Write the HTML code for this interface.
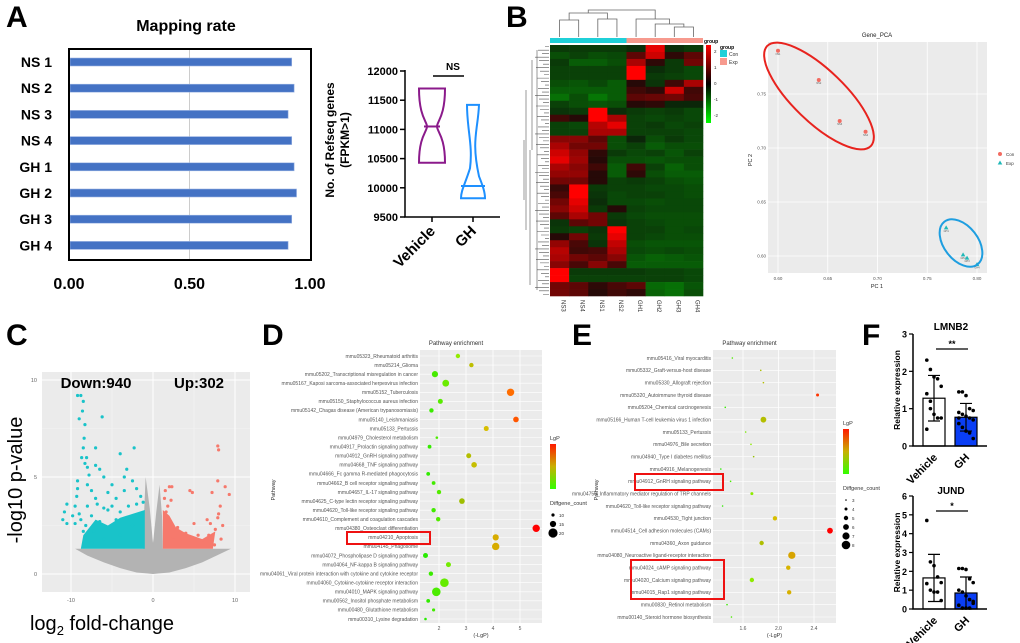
<!DOCTYPE html>
<html><head><meta charset="utf-8"><style>
html,body{margin:0;padding:0;background:#fff}
svg{display:block;font-family:"Liberation Sans",Arial,sans-serif}
</style></head><body>
<svg id="fig" width="1020" height="643" viewBox="0 0 1020 643">
<text x="6" y="27" font-size="30" font-weight="bold">A</text>
<text x="506" y="27" font-size="30" font-weight="bold">B</text>
<text x="6" y="345" font-size="30" font-weight="bold">C</text>
<text x="262" y="345" font-size="30" font-weight="bold">D</text>
<text x="572" y="345" font-size="30" font-weight="bold">E</text>
<text x="862" y="345" font-size="30" font-weight="bold">F</text>
</svg>
<script>
// ---------- DATA ----------
const mapSamples=["NS 1","NS 2","NS 3","NS 4","GH 1","GH 2","GH 3","GH 4"];
const mapRates=[0.92,0.93,0.905,0.92,0.93,0.94,0.92,0.905];
const mapTicks=[0,0.5,1];
const violinGroups=["Vehicle","GH"];
const violinMax=[11700,11420];
const violinMin=[10430,9820];
const violinMed=[11050,10030];
const violinTicks=[9500,10000,10500,11000,11500,12000];
const heatCols=["NS3","NS4","NS1","NS2","GH1","GH2","GH3","GH4"];
const heatVals=[
[-0.5,-0.5,-0.5,-0.5,-0.3,2,-0.3,-0.5],[-0.8,-0.6,-0.8,-0.7,0.8,1.8,0.3,0.8],[-0.5,-1,-1,-0.8,1.5,0.3,-0.5,1],
[-0.6,-0.6,-0.6,-0.6,2.2,-0.3,-0.5,-0.7],[-0.6,-0.6,-0.6,-0.6,2.2,-0.5,-0.6,-0.7],[-0.8,-0.9,-0.7,-1,0.2,-0.4,0.5,1.5],
[-1,-1,-1,-1,0.5,0.3,1.8,0.5],[-1.3,-0.8,-1.4,-1,0.8,0.9,1,0.6],[-0.6,-0.8,-0.9,-0.8,0.2,0.3,-0.2,-0.2],
[-0.4,-0.5,2.2,-0.3,-0.5,-0.6,-0.5,-0.7],[0.5,0.2,2.2,1.5,-0.6,-0.7,-0.6,-0.7],[-0.6,-0.7,1.6,2,-0.6,-0.5,-0.7,-0.6],
[-0.6,-0.6,1.5,1.5,-0.6,-0.6,-0.6,-0.7],[1.2,1.2,0.8,-0.8,-0.2,-0.8,-0.5,-0.7],[1.5,1,1,-0.8,-0.6,-1,-0.8,-0.8],
[1.8,1.3,0.3,-0.5,-0.7,-0.6,-0.9,-0.6],[2,1.4,0.2,-0.8,-0.8,-0.9,-0.8,-0.8],[1.5,1.2,0.5,-1,0.5,-0.6,-1.1,-0.8],
[1.3,1.3,0.2,-1,0.3,-0.8,-1,-1],[1,1,0.2,-0.6,-0.5,-0.6,-0.8,-0.9],[0.4,2.2,-0.5,-0.6,-0.6,-0.7,-0.7,-0.8],
[0.6,2.2,-0.4,-0.7,-0.6,-0.6,-0.7,-0.8],[1,2,-0.3,-0.7,-0.7,-0.8,-0.7,-0.7],[1.2,1.8,-0.5,0.2,-0.6,-0.7,-0.7,-0.7],
[0.8,1.5,1,-0.5,-0.7,-0.8,-0.8,-0.8],[-0.4,0.8,1,-0.4,-0.6,-0.7,-0.8,-0.8],[-0.5,-0.6,-0.4,2.2,-0.6,-0.6,-0.8,-0.7],
[0.2,1,-0.5,2,-0.6,-0.7,-0.8,-0.8],[1.3,0.6,-0.4,1.7,-0.8,-0.9,-0.9,-0.9],[1.6,0.5,0.6,1.5,-0.7,-0.8,-0.7,-0.8],
[1.5,1,0.8,1.2,-0.9,-1.1,-1,-0.9],[1.2,0.6,1.2,0.6,-1,-1,-1,-1],[2.2,-0.5,-0.5,-0.5,-0.5,-0.6,-0.6,-0.7],
[2.2,-0.6,-0.6,-0.6,-0.6,-0.6,-0.6,-0.7],[1,0.8,0.3,0.6,0.8,-1.2,-1.3,-0.9],[1,0.8,0.2,0.5,0.3,-1.1,-1.3,-0.8]];
const pcaConX=[0.600,0.641,0.662,0.688];
const pcaConY=[0.790,0.763,0.725,0.715];
const pcaExpX=[0.769,0.786,0.790,0.800];
const pcaExpY=[0.626,0.601,0.598,0.592];
const pcaXTicks=[0.60,0.65,0.70,0.75,0.80];
const pcaYTicks=[0.60,0.65,0.70,0.75];
const volDown=[[-9.2,9.2],[-8.8,9.2],[-8.5,8.9],[-8.6,8.4],[-9,8],[-8.3,7.7],[-6.2,8.1],[-8.4,7],[-8.5,6.5],[-7,6.5],[-2.3,6.5],[-4,6.2],[-8.7,6],[-8.1,6],[-8.3,5.7],[-8,5.5],[-7,5.6],[-6.5,5.4],[-3.2,5.4],[-7.8,5.1],[-6,5],[-3.5,5],[-9.2,4.8],[-8,4.6],[-5,4.6],[-2.5,4.8],[-9.2,4.4],[-7.5,4.3],[-5.5,4.2],[-3.5,4.3],[-2,4.4],[-9.3,4],[-7,3.9],[-4.5,3.9],[-1.5,4],[-10.5,3.6],[-9.5,3.5],[-8,3.5],[-6,3.4],[-10.8,3.2],[-9.8,3],[-5.5,3.3],[-11,2.8],[-10.5,2.6],[-9.5,2.6],[-7.5,3],[-6.5,2.7],[-4.5,2.8],[-3,3.5],[-2,3.6],[-1.2,3.7],[-8.5,2.2],[-8,1.9],[-7.5,1.6],[-6,1.8],[-4,2],[-2.5,2.5],[-1.5,3],[-9,3.1],[-8.8,2.8],[-8.2,2.5],[-7.2,2.2],[-6.8,3.6],[-5,3.5],[-4,3.2]];
const volUp=[[7.9,6.6],[8,6.4],[7.9,4.8],[8.8,4.5],[9.3,4.1],[4.5,4.3],[4.8,4.2],[7.2,4.2],[8.2,3.5],[2.3,4.5],[2,4.5],[1.5,4.3],[1.4,3.9],[8,3.1],[1.8,3.5],[7.9,2.9],[6.6,2.8],[5,2.6],[7,2.6],[8.5,2.5],[3,2.4],[2,2.5],[4,2.1],[5.5,2],[3.5,1.8],[6,1.6],[8.3,1.8],[4.5,1.6],[2.5,1.9],[1.5,2.7],[6.8,2],[7.5,1.5],[1.6,3.2],[2.2,3.8],[7.6,2.3]];
const volDownDense=[[-8.8,1.3],[-1,1.3],[-1,3.3],[-2.5,3.1],[-4,2.9],[-5.5,2.5],[-7,2.8],[-8.5,2]];
const volUpDense=[[1.2,1.3],[7.3,1.3],[7.6,2.2],[6,1.8],[4,2.1],[2.8,2.4],[2,3],[1.2,3.3]];
const volGray=[[-9.5,1.3],[-8,0.95],[-6,0.6],[-4,0.3],[-2,0.08],[0,0],[2,0.08],[4,0.3],[6,0.6],[8,1.0],[9.5,1.3],[1.2,1.3],[1.1,3],[0.8,4.6],[0.4,3.2],[0,1.6],[-0.4,3.4],[-0.9,5],[-1.1,3],[-1.2,1.3]];
const volXTicks=[-10,0,10];
const volYTicks=[0,5,10];
const dPaths=["mmu05323_Rheumatoid arthritis","mmu05214_Glioma","mmu05202_Transcriptional misregulation in cancer","mmu05167_Kaposi sarcoma-associated herpesvirus infection","mmu05152_Tuberculosis","mmu05150_Staphylococcus aureus infection","mmu05142_Chagas disease (American trypanosomiasis)","mmu05140_Leishmaniasis","mmu05133_Pertussis","mmu04979_Cholesterol metabolism","mmu04917_Prolactin signaling pathway","mmu04912_GnRH signaling pathway","mmu04668_TNF signaling pathway","mmu04666_Fc gamma R-mediated phagocytosis","mmu04662_B cell receptor signaling pathway","mmu04657_IL-17 signaling pathway","mmu04625_C-type lectin receptor signaling pathway","mmu04620_Toll-like receptor signaling pathway","mmu04610_Complement and coagulation cascades","mmu04380_Osteoclast differentiation","mmu04210_Apoptosis","mmu04145_Phagosome","mmu04072_Phospholipase D signaling pathway","mmu04064_NF-kappa B signaling pathway","mmu04061_Viral protein interaction with cytokine and cytokine receptor","mmu04060_Cytokine-cytokine receptor interaction","mmu04010_MAPK signaling pathway","mmu00562_Inositol phosphate metabolism","mmu00480_Glutathione metabolism","mmu00310_Lysine degradation"];
const dLgP=[2.7,3.2,1.85,2.25,4.65,2.05,1.72,4.85,3.75,1.92,1.65,3.1,3.3,1.6,1.8,2.0,2.85,1.8,1.97,5.6,4.1,4.1,1.5,2.35,1.7,2.2,1.9,1.6,1.8,1.5];
const dCount=[12,12,15,16,17,13,12,14,13,9,11,13,14,11,11,12,14,12,12,17,15,17,13,13,12,19,19,11,10,9];
const dTicks=[2,3,4,5];
const ePaths=["mmu05416_Viral myocarditis","mmu05332_Graft-versus-host disease","mmu05330_Allograft rejection","mmu05320_Autoimmune thyroid disease","mmu05204_Chemical carcinogenesis","mmu05166_Human T-cell leukemia virus 1 infection","mmu05133_Pertussis","mmu04976_Bile secretion","mmu04940_Type I diabetes mellitus","mmu04916_Melanogenesis","mmu04912_GnRH signaling pathway","mmu04750_Inflammatory mediator regulation of TRP channels","mmu04620_Toll-like receptor signaling pathway","mmu04530_Tight junction","mmu04514_Cell adhesion molecules (CAMs)","mmu04360_Axon guidance","mmu04080_Neuroactive ligand-receptor interaction","mmu04024_cAMP signaling pathway","mmu04020_Calcium signaling pathway","mmu04015_Rap1 signaling pathway","mmu00830_Retinol metabolism","mmu00140_Steroid hormone biosynthesis"];
const eLgP=[1.48,1.80,1.83,2.44,1.40,1.83,1.63,1.69,1.72,1.35,1.46,1.70,1.37,1.96,2.58,1.81,2.15,2.11,1.70,2.12,1.42,1.47];
const eCount=[3,3,3,4,3,6,3,3,3,3,3,4,3,5,6,5,7,5,5,5,3,3];
const eTicks=[1.6,2.0,2.4];
const fGroups=["Vehicle","GH"];
const lmnMean=[1.28,0.77];
const lmnSD=[0.61,0.37];
const lmnVeh=[2.3,2.05,1.85,1.8,1.6,1.4,1.2,0.85,0.75,0.75,0.45,1.0];
const lmnGH=[1.45,1.45,1.35,1.0,0.95,0.9,0.85,0.8,0.75,0.7,0.6,0.5,0.4,0.35,0.2,0.75];
const jundMean=[1.65,0.85];
const jundSD=[1.25,0.85];
const jundVeh=[4.7,2.5,2.3,1.7,1.4,1.35,1.0,0.9,0.9,0.45];
const jundGH=[2.15,2.15,2.1,1.6,1.4,1.0,0.9,0.7,0.5,0.3,0.2,0.05,0.05,0.05,0.4];
const lmnTicks=[0,1,2,3];
const jundTicks=[0,1,2,3,4,5,6];

// ---------- HELPERS ----------
const svg=document.getElementById('fig');
const NS='http://www.w3.org/2000/svg';
function mk(tag,attrs,parent){const e=document.createElementNS(NS,tag);for(const k in attrs)e.setAttribute(k,attrs[k]);(parent||svg).appendChild(e);return e;}
function txt(x,y,s,attrs,parent){const e=mk('text',Object.assign({x:x,y:y},attrs||{}),parent);e.textContent=s;return e;}
function lin(d0,d1,r0,r1){return v=>r0+(v-d0)*(r1-r0)/(d1-d0);}

// ---------- PANEL A: mapping rate ----------
{
const g=mk('g',{});


const x=lin(0,1,69,310);
let t=txt(186,31,'Mapping rate',{'font-size':16,'font-weight':'bold','text-anchor':'middle'},g);

let gl=mk('line',{x1:x(0.5),x2:x(0.5),y1:50,y2:259,stroke:'#ccc','stroke-width':1},g);

mapRates.forEach((v,i)=>{
 const cy=62+i*26.2;
 const r=mk('rect',{x:x(0)+1,y:cy-4,width:x(v)-x(0),height:8,fill:'#4472c4',stroke:'#9db5e3','stroke-width':0.6},g);
 
 
 const l=txt(52,cy+5,mapSamples[i],{'font-size':14,'font-weight':'bold','text-anchor':'end'},g);
 
});
const b=mk('rect',{x:69,y:49,width:242,height:211,fill:'none',stroke:'#000','stroke-width':2},g);

mapTicks.forEach(v=>{const l=txt(x(v),289,v.toFixed(2),{'font-size':16,'font-weight':'bold','text-anchor':'middle'},g);
 });
}
// ---------- PANEL A: violin ----------
{
const g=mk('g',{});


const y=lin(9500,12000,217,71);
const xs=[432,473];const cols=['#8b1a8b','#1e90ff'];
const ax=mk('path',{d:'M405,70 V217 H500',fill:'none',stroke:'#000','stroke-width':1.5},g);

violinTicks.forEach(v=>{
 mk('line',{x1:400,x2:405,y1:y(v),y2:y(v),stroke:'#000','stroke-width':1.5},g);
 const l=txt(398,y(v)+4,String(v),{'font-size':11,'font-weight':'bold','text-anchor':'end'},g);
 
});
xs.forEach(xx=>mk('line',{x1:xx,x2:xx,y1:217,y2:222,stroke:'#000','stroke-width':1.5},g));
violinGroups.forEach((n,i)=>{
 const cx=xs[i],t=y(violinMax[i]),b=y(violinMin[i]),m=y(violinMed[i]);
 const w=13,wn=5;
 const d=i===0?`M${cx-w},${t} H${cx+w} C${cx+w},${m-10} ${cx+wn},${m-5} ${cx+wn},${m} C${cx+wn},${m+5} ${cx+w},${m+10} ${cx+w},${b} H${cx-w} C${cx-w},${m+10} ${cx-wn},${m+5} ${cx-wn},${m} C${cx-wn},${m-5} ${cx-w},${m-10} ${cx-w},${t}Z`
 :`M${cx-6},${t} H${cx+6} C${cx+5},${t+25} ${cx-2},${t+35} ${cx+6},${b-22} C${cx+10},${b-12} ${cx+12},${b-6} ${cx+12},${b} H${cx-12} C${cx-12},${b-8} ${cx-8},${b-14} ${cx-3},${b-30} C${cx},${t+40} ${cx-6},${t+25} ${cx-6},${t}Z`;
 const p=mk('path',{d:d,fill:'none',stroke:cols[i],'stroke-width':2},g);
 
 const ml=mk('line',{x1:cx-(i===0?wn+3:12),x2:cx+(i===0?wn+3:12),y1:m,y2:m,stroke:cols[i],'stroke-width':2},g);
 
 const l=txt(cx+4,232,n,{'font-size':15,'font-weight':'bold','text-anchor':'end',transform:`rotate(-45 ${cx+4} 232)`},g);
 
});
mk('line',{x1:433,x2:464,y1:76,y2:76,stroke:'#000','stroke-width':1.5},g);
const ns=txt(453,70,'NS',{'font-size':10,'font-weight':'bold','text-anchor':'middle'},g);

const yt=txt(0,0,'No. of Refseq genes',{'font-size':12,'font-weight':'bold','text-anchor':'middle',transform:'translate(334,140) rotate(-90)'},g);

const yt2=txt(0,0,'(FPKM>1)',{'font-size':12,'font-weight':'bold','text-anchor':'middle',transform:'translate(349,140) rotate(-90)'},g);

}
// ---------- PANEL B: heatmap ----------
{
const g=mk('g',{});


const x0=550,x1=703,y0=45,y1=296,cw=(x1-x0)/heatCols.length,rh=(y1-y0)/heatVals.length;
function col(v){if(v<0){const t=Math.min(1,-v/3);return `rgb(${Math.round(12*(1-t))},${Math.round(25+200*t)},${Math.round(10*(1-t))})`;}
 const t=Math.min(1,v/2.2);return `rgb(${Math.round(25+230*Math.pow(t,1.2))},${Math.round(10*(1-t))},${Math.round(8*(1-t))})`;}
heatVals.forEach((row,r)=>row.forEach((v,c)=>{
 const e=mk('rect',{x:x0+c*cw,y:y0+r*rh,width:cw+0.3,height:rh+0.3,fill:col(v)},g);
 
}));
const gb1=mk('rect',{x:x0,y:38,width:cw*4,height:5,fill:'#1fd0d8'},g);

const gb2=mk('rect',{x:x0+cw*4,y:38,width:cw*4,height:5,fill:'#f79a8e'},g);

heatCols.forEach((n,c)=>{const cx=x0+(c+0.5)*cw;
 const l=txt(cx+2,300,n,{'font-size':6,'text-anchor':'start',fill:'#333',transform:`rotate(90 ${cx+2} 300)`},g);
 });
const cx=i=>x0+(i+0.5)*cw;
const dd=`M${cx(0)},37V20H${cx(1)}V37 M${cx(2)},37V19H${cx(3)}V37 M${(cx(0)+cx(1))/2},20V13H${(cx(2)+cx(3))/2}V19
M${cx(6)},37V27H${cx(7)}V37 M${cx(5)},37V24H${(cx(6)+cx(7))/2}V27 M${cx(4)},37V19H${(cx(5)+(cx(6)+cx(7))/2)/2}V24
M${(cx(1)+cx(2))/2},13V10H${(cx(4)+cx(5)+cx(6))/3}V19`;
const td=mk('path',{d:dd,fill:'none',stroke:'#666','stroke-width':0.8},g);

let ld='';for(let r=0;r<72;r++){const yy=y0+(r+0.5)*(y1-y0)/72;const len=4+((r*7)%11);ld+=`M549,${yy}H${549-len}`;}
ld+=`M537,50V290 M532,60V150 M530,150V285 M526,90V230 M524,140V200`;
const lde=mk('path',{d:ld,fill:'none',stroke:'#555','stroke-width':0.6},g);

const defs=mk('defs',{},g);const lg=mk('linearGradient',{id:'hmg',x1:0,y1:0,x2:0,y2:1},defs);
mk('stop',{offset:0,'stop-color':'#ff0000'},lg);mk('stop',{offset:0.5,'stop-color':'#000'},lg);mk('stop',{offset:1,'stop-color':'#00ff00'},lg);
const cb=mk('rect',{x:706,y:45,width:5,height:78,fill:'url(#hmg)'},g);

[2,1,0,-1,-2].forEach((v,i)=>{const l=txt(714,53+i*16,String(v),{'font-size':4.5,fill:'#333'},g);
 });
txt(704,43,'group',{'font-size':5,'font-weight':'bold'},g);
txt(720,49,'group',{'font-size':5,'font-weight':'bold'},g);
const lc=mk('rect',{x:720,y:50,width:7,height:7,fill:'#1fd0d8'},g);
const le=mk('rect',{x:720,y:58,width:7,height:7,fill:'#f79a8e'},g);
txt(729,56,'Con',{'font-size':5,fill:'#333'},g);txt(729,64,'Exp',{'font-size':5,fill:'#333'},g);
}
// ---------- PANEL B: PCA ----------
{
const g=mk('g',{});


const x=lin(0.6,0.8,778,977),y=lin(0.6,0.75,256,94);
const bg=mk('rect',{x:768,y:42,width:219,height:231,fill:'#ebebeb'},g);

pcaXTicks.forEach(v=>{mk('line',{x1:x(v),x2:x(v),y1:42,y2:273,stroke:'#fff','stroke-width':0.8},g);
 const l=txt(x(v),280,v.toFixed(2),{'font-size':4.5,fill:'#555','text-anchor':'middle'},g);});
pcaYTicks.forEach(v=>{mk('line',{x1:768,x2:987,y1:y(v),y2:y(v),stroke:'#fff','stroke-width':0.8},g);
 const l=txt(766,y(v)+1.5,v.toFixed(2),{'font-size':4.5,fill:'#555','text-anchor':'end'},g);});
txt(877,37,'Gene_PCA',{'font-size':6,'text-anchor':'middle',fill:'#222'},g);
txt(877,288,'PC 1',{'font-size':5.5,'text-anchor':'middle',fill:'#222'},g);
txt(0,0,'PC 2',{'font-size':5.5,'text-anchor':'middle',fill:'#222',transform:'translate(752,160) rotate(-90)'},g);
pcaConX.forEach((v,i)=>{const c=mk('circle',{cx:x(v),cy:y(pcaConY[i]),r:2,fill:'#f26b61'},g);
 
 txt(x(v),y(pcaConY[i])+4,'NS'+(i+1),{'font-size':2.5,'text-anchor':'middle',fill:'#555'},g);});
pcaExpX.forEach((v,i)=>{const px=x(v),py=y(pcaExpY[i]);const c=mk('path',{d:`M${px},${py-2.5}L${px+2.3},${py+1.5}L${px-2.3},${py+1.5}Z`,fill:'#1fb8b8'},g);
 
 txt(px,py+4,'GH'+(i+1),{'font-size':2.5,'text-anchor':'middle',fill:'#555'},g);});
const e1=mk('ellipse',{cx:819,cy:96,rx:72,ry:26,fill:'none',stroke:'#e8231e','stroke-width':2,transform:'rotate(44 819 96)'},g);

const e2=mk('ellipse',{cx:961,cy:243,rx:27,ry:17,fill:'none',stroke:'#1e9ee0','stroke-width':2,transform:'rotate(52 961 243)'},g);

mk('circle',{cx:1000,cy:154,r:2,fill:'#f26b61'},g);
mk('path',{d:'M1000,160.5L1002.3,164.5L997.7,164.5Z',fill:'#1fb8b8'},g);
txt(1006,156,'Con',{'font-size':4.5,fill:'#333'},g);txt(1006,165,'Exp',{'font-size':4.5,fill:'#333'},g);
}
// ---------- PANEL C: volcano ----------
{
const g=mk('g',{});


const x=lin(0,10,153,235),y=lin(0,10,574,380);
const bg=mk('rect',{x:42,y:372,width:208,height:220,fill:'#ebebeb'},g);

[-5,5].forEach(v=>mk('line',{x1:x(v),x2:x(v),y1:372,y2:592,stroke:'#f4f4f4','stroke-width':0.6},g));
[2.5,7.5].forEach(v=>mk('line',{x1:42,x2:250,y1:y(v),y2:y(v),stroke:'#f4f4f4','stroke-width':0.6},g));
volXTicks.forEach(v=>{mk('line',{x1:x(v),x2:x(v),y1:372,y2:592,stroke:'#fff','stroke-width':1},g);
 const l=txt(x(v),602,String(v),{'font-size':5.5,fill:'#666','text-anchor':'middle'},g);});
volYTicks.forEach(v=>{mk('line',{x1:42,x2:250,y1:y(v),y2:y(v),stroke:'#fff','stroke-width':1},g);
 const l=txt(37,y(v)+2,String(v),{'font-size':5.5,fill:'#666','text-anchor':'end'},g);});
const pts=a=>a.map(p=>x(p[0])+','+y(p[1])).join(' ');
const gr=mk('polygon',{points:pts(volGray),fill:'#b3b3b3'},g);
const dd=mk('polygon',{points:pts(volDownDense),fill:'#19c3c9'},g);
const ud=mk('polygon',{points:pts(volUpDense),fill:'#f6796c'},g);
volDown.forEach(p=>{const c=mk('circle',{cx:x(p[0]),cy:y(p[1]),r:1.6,fill:'#19c3c9'},g);});
volUp.forEach(p=>{const c=mk('circle',{cx:x(p[0]),cy:y(p[1]),r:1.6,fill:'#f6796c'},g);});
txt(96,388,'Down:940',{'font-size':15,'font-weight':'bold','text-anchor':'middle'},g);
txt(199,388,'Up:302',{'font-size':15,'font-weight':'bold','text-anchor':'middle'},g);
const yt=txt(0,0,'-log10 p-value',{'font-size':20,'text-anchor':'middle',transform:'translate(22,480) rotate(-90)'},g);

const xt=mk('text',{x:102,y:630,'font-size':20,'text-anchor':'middle'},g);xt.innerHTML='log<tspan font-size="13" dy="5">2</tspan><tspan dy="-5"> fold-change</tspan>';

}
// ---------- PANELS D & E ----------
function enrich(name,paths,vals,counts,ticks,box,xd,xr,colLo,colHi,sizeF,legend,decimals,boxes){
 const g=mk('g',{});
 
 
 const x=lin(xd[0],xd[1],xr[0],xr[1]);
 const bg=mk('rect',{x:box[0],y:box[1],width:box[2]-box[0],height:box[3]-box[1],fill:'#ebebeb'},g);
 
 const n=paths.length,rowY=i=>box[4]+i*(box[5]-box[4])/(n-1);
 paths.forEach((p,i)=>mk('line',{x1:box[0],x2:box[2],y1:rowY(i),y2:rowY(i),stroke:'#fff','stroke-width':0.6},g));
 ticks.forEach(v=>{mk('line',{x1:x(v),x2:x(v),y1:box[1],y2:box[3],stroke:'#fff','stroke-width':0.8},g);
  const l=txt(x(v),box[3]+7,v.toFixed(decimals),{'font-size':5,fill:'#555','text-anchor':'middle'},g);});
 const vmin=Math.min(...vals),vmax=Math.max(...vals);
 function col(v){const t=(v-vmin)/(vmax-vmin);let r,gg;if(t<0.5){r=Math.round(40+360*t);gg=235;}else{r=255;gg=Math.round(235-(t-0.5)*2*235);}
  if(t>0.3&&t<0.7){r=Math.min(r,215);gg=Math.min(gg,190);} return `rgb(${r},${gg},0)`;}
 paths.forEach((p,i)=>{
  const l=txt(box[0]-2,rowY(i)+1.8,p,{'font-size':5,fill:'#555','text-anchor':'end'},g);
  const c=mk('circle',{cx:x(vals[i]),cy:rowY(i),r:sizeF(counts[i]),fill:col(vals[i])},g);
  
 });
 txt((box[0]+box[2])/2-25,box[1]-5,'Pathway enrichment',{'font-size':6,fill:'#333','text-anchor':'middle'},g);
 txt((box[0]+box[2])/2,box[3]+14,'(-LgP)',{'font-size':5.5,fill:'#333','text-anchor':'middle'},g);
 txt(0,0,'Pathway',{'font-size':5.5,fill:'#333','text-anchor':'middle',transform:`translate(${legend[3]},490) rotate(-90)`},g);
 const lx=legend[0],ly=legend[1];
 txt(lx,ly,'LgP',{'font-size':5.5,fill:'#333'},g);
 const gid=name+'-grad';const defs=mk('defs',{},g);const lg=mk('linearGradient',{id:gid,x1:0,y1:0,x2:0,y2:1},defs);
 mk('stop',{offset:0,'stop-color':'#ff1a00'},lg);mk('stop',{offset:0.5,'stop-color':'#c9b000'},lg);mk('stop',{offset:1,'stop-color':'#33ff00'},lg);
 const cb=mk('rect',{x:lx,y:ly+4,width:6,height:45,fill:`url(#${gid})`},g);
 txt(lx,ly+65,'Diffgene_count',{'font-size':5.5,fill:'#333'},g);
 legend[2].forEach((s,i)=>{const c=mk('circle',{cx:lx+3,cy:ly+75+i*legend[4],r:sizeF(s),fill:'#000'},g);
  txt(lx+9,ly+77+i*legend[4],String(s),{'font-size':4.5,fill:'#333'},g);});
 boxes.forEach(b=>{const r=mk('rect',{x:b[0],y:b[1],width:b[2],height:b[3],fill:'none',stroke:'#ee1111','stroke-width':2},g);
  });
}
enrich('pathway-enrichment-d',dPaths,dLgP,dCount,dTicks,[420,350,542,623,356,619],[2,5],[439,520],0,0,c=>1+(c-8)*0.3,[550,440,[10,15,20],275,9],0,[[347,532,83,12]]);
enrich('pathway-enrichment-e',ePaths,eLgP,eCount,eTicks,[713,350,836,623,358,617],[1.6,2.4],[743,814],0,0,c=>0.8+(c-3)*0.7,[843,425,[3,4,5,6,7,8],598,9],1,[[635,474,88,16],[631,560,93,39]]);
// ---------- PANEL F ----------
function barF(name,title,means,sds,veh,gh,ticks,y0px,ymaxpx,ymax,sig,sigY,titleY){
 const g=mk('g',{});
 
 
 const y=lin(0,ymax,y0px,ymaxpx);
 txt(951,titleY,title,{'font-size':10,'font-weight':'bold','text-anchor':'middle'},g);
 const xs=[934,966];
 means.forEach((m,i)=>{
  const r=mk('rect',{x:xs[i]-11,y:y(m),width:22,height:y(0)-y(m),fill:i?'#0a3ef5':'#fff',stroke:'#000','stroke-width':1.2},g);
  
  const lo=Math.max(0,m-sds[i]),hi=m+sds[i];
  const e=mk('path',{d:`M${xs[i]},${y(lo)}V${y(hi)} M${xs[i]-6},${y(hi)}H${xs[i]+6} M${xs[i]-6},${y(lo)}H${xs[i]+6}`,stroke:'#000','stroke-width':1.2,fill:'none'},g);
  
  const l=txt(xs[i]+4,y(0)+12,fGroups[i],{'font-size':11,'font-weight':'bold','text-anchor':'end',transform:`rotate(-45 ${xs[i]+4} ${y(0)+12})`},g);
  
 });
 [veh,gh].forEach((arr,gi)=>arr.forEach((v,i)=>{const off=((i%5)-2)*3.6;
  const c=mk('circle',{cx:xs[gi]+off,cy:y(v),r:1.8,fill:'#000'},g);}));
 const ax=mk('path',{d:`M913,${ymaxpx}V${y0px}H987`,stroke:'#000','stroke-width':1.5,fill:'none'},g);
 
 ticks.forEach(v=>{mk('line',{x1:909,x2:913,y1:y(v),y2:y(v),stroke:'#000','stroke-width':1.2},g);
  const l=txt(907,y(v)+3.5,String(v),{'font-size':9,'font-weight':'bold','text-anchor':'end'},g);});
 txt(0,0,'Relative expression',{'font-size':8.5,'font-weight':'bold','text-anchor':'middle',transform:`translate(900,${(y0px+ymaxpx)/2}) rotate(-90)`},g);
 mk('line',{x1:936,x2:968,y1:sigY,y2:sigY,stroke:'#000','stroke-width':1.2},g);
 txt(952,sigY-2,sig,{'font-size':9,'font-weight':'bold','text-anchor':'middle'},g);
}
barF('lmnb2-bar-chart','LMNB2',lmnMean,lmnSD,lmnVeh,lmnGH,lmnTicks,446,334,3,'**',349,330);
barF('jund-bar-chart','JUND',jundMean,jundSD,jundVeh,jundGH,jundTicks,609,496,6,'*',511,494);
</script>
</body></html>
